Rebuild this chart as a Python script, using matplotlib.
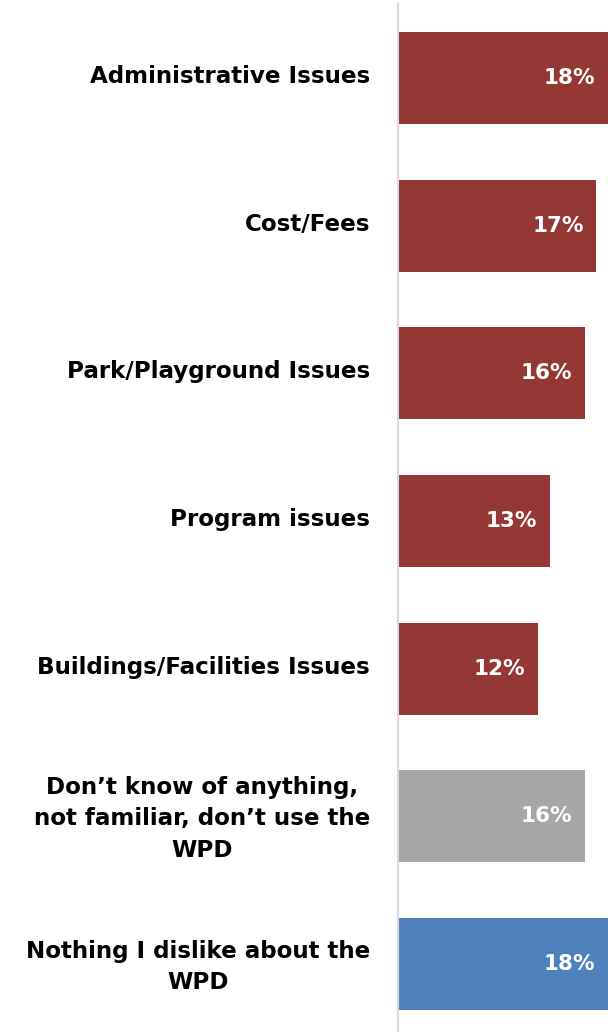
import matplotlib.pyplot as plt
from matplotlib.transforms import ScaledTranslation

categories = [
    'Administrative Issues',
    'Cost/Fees',
    'Park/Playground Issues',
    'Program issues',
    'Buildings/Facilities Issues',
    'Don\u2019t know of anything,\nnot familiar, don\u2019t use the\nWPD',
    'Nothing I dislike about the\nWPD',
]
values = [18, 17, 16, 13, 12, 16, 18]
colors = ['#953735'] * 5 + ['#A6A6A6', '#4F81BD']

fig = plt.figure(figsize=(6.08, 10.32), dpi=100)
ax = fig.add_axes([398 / 608, -6 / 1032, 210 / 608, 1034 / 1032])

ypos = list(range(len(categories)))
bars = ax.barh(ypos, values, height=0.623, color=colors)
ax.set_xlim(0, 18)
ax.set_ylim(6.5, -0.5)

for b, v in zip(bars, values):
    ax.text(b.get_width() - 1.1, b.get_y() + b.get_height() / 2, f'{v}%',
            ha='right', va='center', color='white', fontsize=15.5,
            fontweight='bold')

ax.set_yticks(ypos)
ax.set_yticklabels(categories, fontsize=16.6, fontweight='bold',
                   multialignment='center', linespacing=1.45)
ax.tick_params(axis='y', length=0, pad=20)
ax.set_xticks([])

# nudge the category labels up a little
shift = ScaledTranslation(0, 4 / 100, fig.dpi_scale_trans)
for lbl in ax.get_yticklabels():
    lbl.set_transform(lbl.get_transform() + shift)

for s in ['top', 'right', 'bottom']:
    ax.spines[s].set_visible(False)
ax.spines['left'].set_color('#D9D9D9')
ax.spines['left'].set_linewidth(1.5)

fig.savefig('out.png', dpi=100)
